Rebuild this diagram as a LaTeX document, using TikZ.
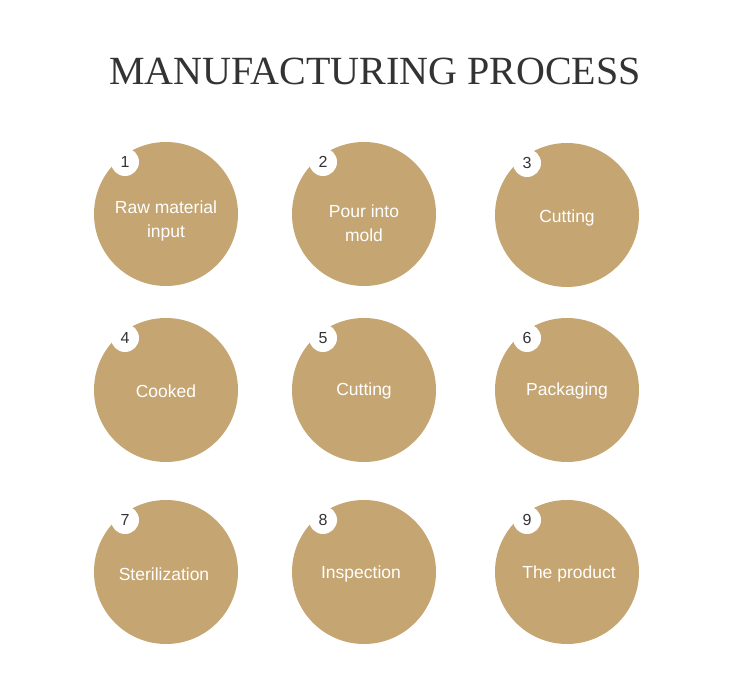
\documentclass[tikz,border=0pt]{standalone}
\usepackage{fontspec}
\setmainfont{Liberation Serif}
\setsansfont{Liberation Sans}
\definecolor{tan}{HTML}{C5A572}
\definecolor{numgray}{HTML}{333333}
\definecolor{titlegray}{HTML}{333333}
\tikzset{
  stepcircle/.style={circle, fill=tan, minimum size=144pt, inner sep=0pt},
  numcircle/.style={circle, fill=white, minimum size=28pt, inner sep=0pt, text=numgray, font=\sffamily\fontsize{16}{16}\selectfont},
  steptext/.style={text=white, align=center, font=\sffamily\fontsize{17.5}{24}\selectfont},
}
\begin{document}
\begin{tikzpicture}[x=1pt,y=-1pt]
\useasboundingbox (0,0) rectangle (750,692);
\fill[white] (0,0) rectangle (750,692);
\node[anchor=base, text=titlegray, font=\fontsize{40}{40}\selectfont] (title) at (375,85) {MANUFACTURING PROCESS};
\node[stepcircle] (c1) at (166,214) {};
\node[stepcircle] (c2) at (364,214) {};
\node[stepcircle] (c3) at (567,215) {};
\node[stepcircle] (c4) at (166,390) {};
\node[stepcircle] (c5) at (364,390) {};
\node[stepcircle] (c6) at (567,390) {};
\node[stepcircle] (c7) at (166,572) {};
\node[stepcircle] (c8) at (364,572) {};
\node[stepcircle] (c9) at (567,572) {};
\node[numcircle] (n1) at (125,162) {1};
\node[numcircle] (n2) at (323,162) {2};
\node[numcircle] (n3) at (527,163) {3};
\node[numcircle] (n4) at (125,338) {4};
\node[numcircle] (n5) at (323,338) {5};
\node[numcircle] (n6) at (527,338) {6};
\node[numcircle] (n7) at (125,520) {7};
\node[numcircle] (n8) at (323,520) {8};
\node[numcircle] (n9) at (527,520) {9};
\node[steptext] (t1) at (166,221) {Raw material\\input};
\node[steptext] (t2) at (364,223) {Pour into\\mold};
\node[steptext] (t3) at (567,218) {Cutting};
\node[steptext] (t4) at (166,391) {Cooked};
\node[steptext] (t5) at (364,391) {Cutting};
\node[steptext] (t6) at (567,391) {Packaging};
\node[steptext] (t7) at (164,574) {Sterilization};
\node[steptext] (t8) at (361,574) {Inspection};
\node[steptext] (t9) at (569,574) {The product};
\end{tikzpicture}
\end{document}
